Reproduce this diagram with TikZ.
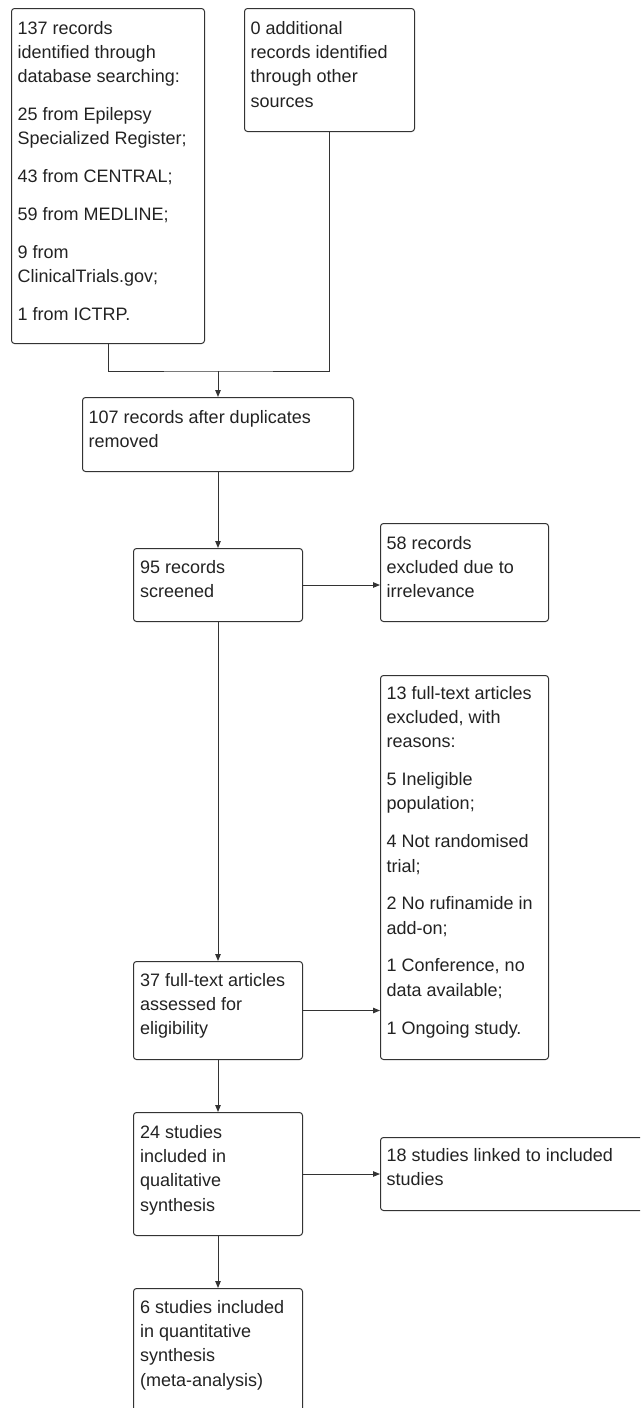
\documentclass[tikz,border=0pt]{standalone}
\usepackage{fontspec}
\setmainfont{Liberation Sans}
\usetikzlibrary{arrows.meta}
\definecolor{ink}{HTML}{222222}
\definecolor{edge}{HTML}{333333}
\newcommand{\topstrut}{\rule{0pt}{15pt}}
\begin{document}
\begin{tikzpicture}[x=1pt,y=-1pt,
  box/.style={draw=edge, line width=1pt, rounded corners=3pt, anchor=north west, inner sep=0pt},
  txt/.style={anchor=north west, inner sep=0pt, align=left, text=ink, font=\fontsize{18}{24.3}\selectfont},
  conn/.style={draw=edge, line width=1pt},
  arr/.style={conn, -{Triangle[length=7pt,width=5.5pt]}}]
\useasboundingbox (0,0) rectangle (640,1408);
\clip (0,0) rectangle (640,1408);
% boxes
\node[box, minimum width=193pt, minimum height=335pt] (b1) at (11,8) {};
\node[box, minimum width=170pt, minimum height=123pt] (b2) at (244,8) {};
\node[box, minimum width=271pt, minimum height=74pt] (b3) at (82,397) {};
\node[box, minimum width=169pt, minimum height=73pt] (b4) at (133,548) {};
\node[box, minimum width=168pt, minimum height=98pt] (b5) at (380,523) {};
\node[box, minimum width=168pt, minimum height=384pt] (b6) at (380,675) {};
\node[box, minimum width=169pt, minimum height=98pt] (b7) at (133,961) {};
\node[box, minimum width=169pt, minimum height=123pt] (b8) at (133,1112) {};
\node[box, minimum width=280pt, minimum height=73pt] (b9) at (380,1137) {};
\node[box, minimum width=169pt, minimum height=160pt] (b10) at (133,1288) {};
% texts (anchored 15pt above the first baseline)
\node[txt] (t1) at (17.5,19) {\topstrut 137 records\\identified through\\database searching:\\[13.5pt]25 from Epilepsy\\Specialized Register;\\[13.5pt]43 from CENTRAL;\\[13.5pt]59 from MEDLINE;\\[13.5pt]9 from\\ClinicalTrials.gov;\\[13.5pt]1 from ICTRP.};
\node[txt] (t2) at (250.5,19) {\topstrut 0 additional\\records identified\\through other\\sources};
\node[txt] (t3) at (88.5,408) {\topstrut 107 records after duplicates\\removed};
\node[txt] (t4) at (140,558) {\topstrut 95 records\\screened};
\node[txt] (t5) at (386.5,534) {\topstrut 58 records\\excluded due to\\irrelevance};
\node[txt] (t6) at (386.5,684) {\topstrut 13 full-text articles\\excluded, with\\reasons:\\[13.5pt]5 Ineligible\\population;\\[13.5pt]4 Not randomised\\trial;\\[13.5pt]2 No rufinamide in\\add-on;\\[13.5pt]1 Conference, no\\data available;\\[13.5pt]1 Ongoing study.};
\node[txt] (t7) at (140,971) {\topstrut 37 full-text articles\\assessed for\\eligibility};
\node[txt] (t8) at (140,1123) {\topstrut 24 studies\\included in\\qualitative\\synthesis};
\node[txt] (t9) at (386.5,1146) {\topstrut 18 studies linked to included\\studies};
\node[txt] (t10) at (140,1298) {\topstrut 6 studies included\\in quantitative\\synthesis\\(meta-analysis)};
% connectors
\coordinate (m) at (b3.north |- 0,371);
\draw[conn] (b1.south) |- (m) -| (b2.south);
\draw[arr] (m) -- (b3.north);
\draw[arr] (b3.south) -- (b4.north);
\draw[arr] (b4.east) -- (b4.east -| b5.west);
\draw[arr] (b4.south) -- (b7.north);
\draw[arr] (b7.east) -- (b7.east -| b6.west);
\draw[arr] (b7.south) -- (b8.north);
\draw[arr] (b8.east) -- (b8.east -| b9.west);
\draw[arr] (b8.south) -- (b10.north);
\end{tikzpicture}
\end{document}
